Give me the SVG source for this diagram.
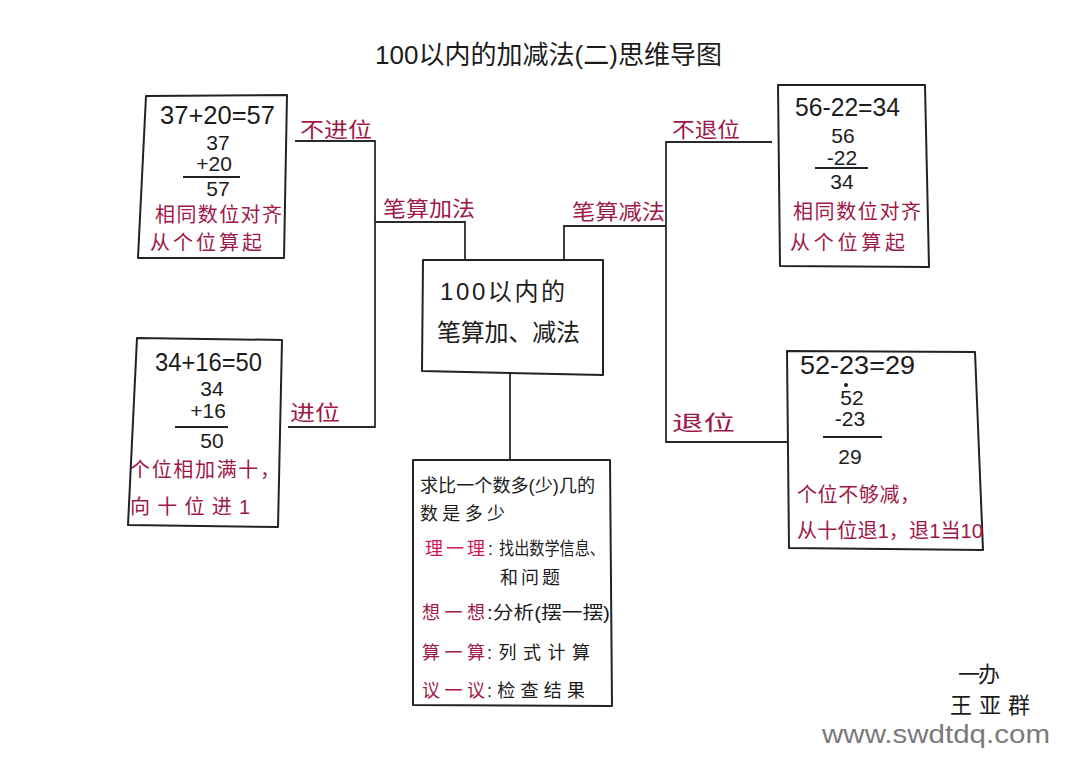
<svg xmlns="http://www.w3.org/2000/svg" width="1080" height="770" viewBox="0 0 1080 770">
<style>
  text { font-family: "Liberation Sans", "Noto Sans CJK SC", sans-serif; fill: #1c1c1c; }
  .box { fill: #ffffff; stroke: #222; stroke-width: 2; stroke-linejoin: round; }
  .ln { fill: none; stroke: #2a2a2a; stroke-width: 1.8; }
  .bar { stroke: #222; stroke-width: 2; }
  .red { fill: #9e1848; }
  .pink { fill: #d0145a; }
  .lbl { fill: #9e1848; font-size: 21px; }
  .num { font-size: 21px; text-anchor: middle; }
  .eq { font-size: 25px; }
  .t { font-size: 20px; }
  .st { font-size: 18px; }
  .wm { fill: #7a7a7a; font-size: 26px; }
</style>
<rect width="1080" height="770" fill="#ffffff"/>

<g id="title">
  <text x="375" y="64" font-size="26" textLength="347" lengthAdjust="spacingAndGlyphs">100以内的加减法(二)思维导图</text>
</g>

<g id="connectors">
  <polyline class="ln" points="295,141 375,141 375,427 288,427"/>
  <polyline class="ln" points="375,222 465,222 465,260"/>
  <polyline class="ln" points="564,260 564,226 666,226"/>
  <polyline class="ln" points="772,142 666,142 666,442 790,442"/>
  <polyline class="ln" points="510,372 510,460"/>
  <text class="lbl" x="300" y="137" textLength="72" lengthAdjust="spacingAndGlyphs">不进位</text>
  <text class="lbl" x="383" y="216" textLength="92" lengthAdjust="spacingAndGlyphs">笔算加法</text>
  <text class="lbl" x="290" y="420" font-size="23" textLength="50" lengthAdjust="spacingAndGlyphs">进位</text>
  <text class="lbl" x="572" y="219" textLength="93" lengthAdjust="spacingAndGlyphs">笔算减法</text>
  <text class="lbl" x="672" y="137" textLength="68" lengthAdjust="spacingAndGlyphs">不退位</text>
  <text class="lbl" x="672" y="430" font-size="23" textLength="63" lengthAdjust="spacingAndGlyphs">退位</text>
</g>

<g id="n-center">
  <polygon class="box" points="423,260 603,260 603,375 422,371"/>
  <text x="440" y="300" font-size="24" textLength="125" lengthAdjust="spacing">100以内的</text>
  <text x="437" y="341" font-size="24" textLength="143" lengthAdjust="spacing">笔算加、减法</text>
</g>

<g id="n-add-nocarry">
  <polygon class="box" points="146,96 287,95 284,258 138,258"/>
  <text class="eq" x="160" y="124" textLength="115" lengthAdjust="spacingAndGlyphs">37+20=57</text>
  <text class="num" x="218" y="150">37</text>
  <text class="num" x="214" y="171">+20</text>
  <line class="bar" x1="183" y1="177" x2="240" y2="177"/>
  <text class="num" x="218" y="196">57</text>
  <text class="t red" x="155" y="222" textLength="127" lengthAdjust="spacing">相同数位对齐</text>
  <text class="t red" x="150" y="250" textLength="112" lengthAdjust="spacing">从个位算起</text>
</g>

<g id="n-add-carry">
  <polygon class="box" points="137,338 282,340 278,527 128,525"/>
  <text class="eq" x="155" y="371" textLength="107" lengthAdjust="spacingAndGlyphs">34+16=50</text>
  <text class="num" x="212" y="396">34</text>
  <text class="num" x="208" y="418">+16</text>
  <line class="bar" x1="175" y1="427" x2="228" y2="427"/>
  <text class="num" x="212" y="448">50</text>
  <text class="t red" x="130" y="477" textLength="150" lengthAdjust="spacing">个位相加满十，</text>
  <text class="t red" x="130" y="514" textLength="120" lengthAdjust="spacing">向十位进1</text>
</g>

<g id="n-sub-noborrow">
  <polygon class="box" points="778,85 925,85 929,267 780,266"/>
  <text class="eq" x="795" y="116" textLength="105" lengthAdjust="spacingAndGlyphs">56-22=34</text>
  <text class="num" x="843" y="143">56</text>
  <text class="num" x="842" y="165">-22</text>
  <line class="bar" x1="815" y1="168" x2="868" y2="168"/>
  <text class="num" x="842" y="189">34</text>
  <text class="t red" x="793" y="219" textLength="128" lengthAdjust="spacing">相同数位对齐</text>
  <text class="t red" x="790" y="250" textLength="115" lengthAdjust="spacing">从个位算起</text>
</g>

<g id="n-sub-borrow">
  <polygon class="box" points="787,351 975,352 983,550 789,548"/>
  <text class="eq" x="800" y="374" textLength="115" lengthAdjust="spacingAndGlyphs">52-23=29</text>
  <circle cx="846" cy="385" r="2" fill="#1c1c1c"/>
  <text class="num" x="852" y="405">52</text>
  <text class="num" x="850" y="426">-23</text>
  <line class="bar" x1="823" y1="437" x2="882" y2="437"/>
  <text class="num" x="850" y="464">29</text>
  <text class="t red" x="797" y="502" textLength="123" lengthAdjust="spacing">个位不够减，</text>
  <text class="t red" x="797" y="538" textLength="186" lengthAdjust="spacingAndGlyphs">从十位退1，退1当10</text>
</g>

<g id="n-steps">
  <polygon class="box" points="413,460 610,460 612,706 413,705"/>
  <text class="st" x="420" y="492" textLength="175" lengthAdjust="spacingAndGlyphs">求比一个数多(少)几的</text>
  <text class="st" x="420" y="520" textLength="85" lengthAdjust="spacing">数是多少</text>
  <text class="st pink" x="425" y="555" font-size="19" textLength="60" lengthAdjust="spacing">理一理</text>
  <text class="st" x="488" y="555">:</text>
  <text class="st" x="499" y="555" font-size="15" textLength="106" lengthAdjust="spacingAndGlyphs">找出数学信息、</text>
  <text class="st" x="500" y="584" textLength="60" lengthAdjust="spacing">和问题</text>
  <text class="st red" x="422" y="619" font-size="19" textLength="63" lengthAdjust="spacing">想一想</text>
  <text class="st" x="487" y="619" textLength="123" lengthAdjust="spacingAndGlyphs">:分析(摆一摆)</text>
  <text class="st red" x="422" y="659" font-size="19" textLength="63" lengthAdjust="spacing">算一算</text>
  <text class="st" x="487" y="659" textLength="103" lengthAdjust="spacing">:列式计算</text>
  <text class="st red" x="422" y="697" font-size="19" textLength="63" lengthAdjust="spacing">议一议</text>
  <text class="st" x="487" y="697" textLength="98" lengthAdjust="spacing">:检查结果</text>
</g>

<g id="signature">
  <text x="958" y="682" font-size="22" textLength="42" lengthAdjust="spacing">一办</text>
  <text x="950" y="713" font-size="22" textLength="80" lengthAdjust="spacing">王亚群</text>
  <text class="wm" x="822" y="743" textLength="228" lengthAdjust="spacingAndGlyphs">www.swdtdq.com</text>
</g>
</svg>
